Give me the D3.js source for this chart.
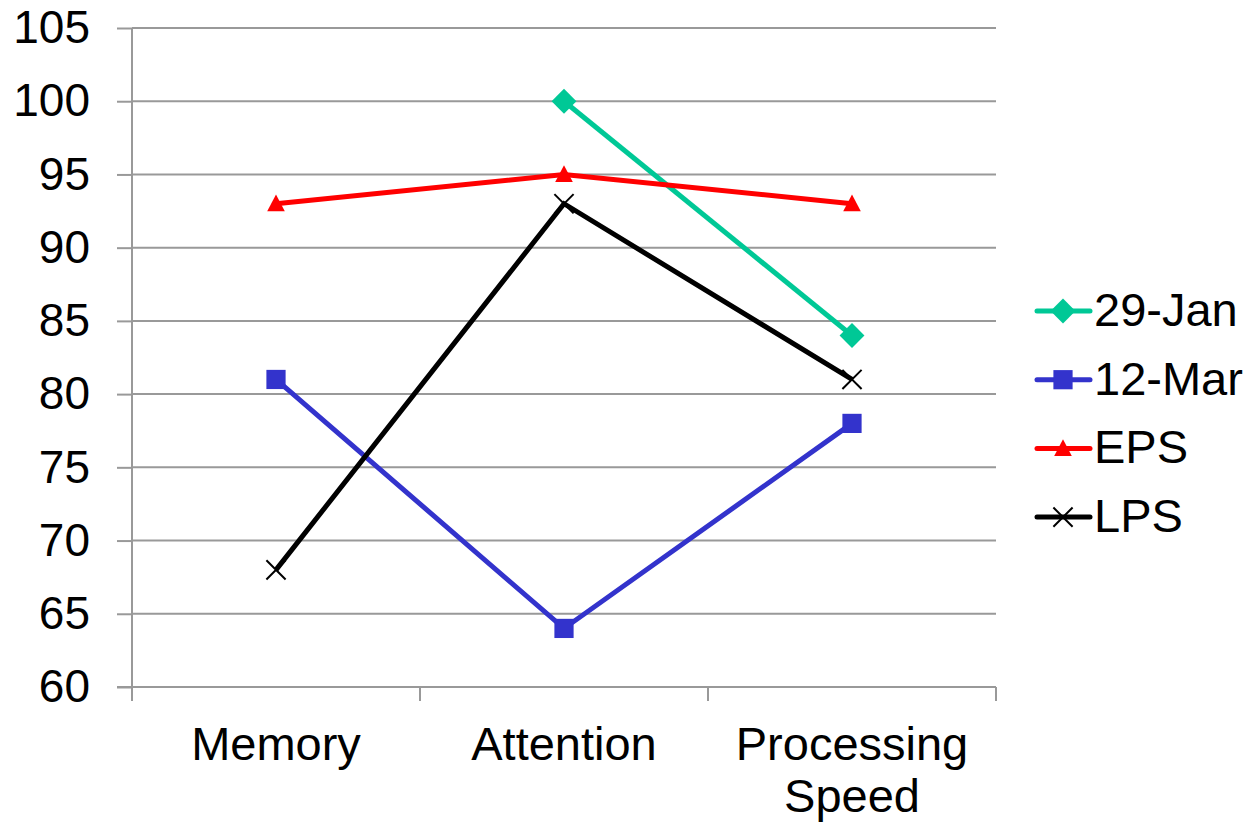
<!DOCTYPE html>
<html><head><meta charset="utf-8">
<script src="https://cdn.jsdelivr.net/npm/d3@7"></script>
<style>body{margin:0;background:#fff}svg{display:block}text{font-family:"Liberation Sans",Arial,sans-serif;fill:#000}</style>
</head><body>
<svg id="c" width="1251" height="823"></svg>
<script>
const categories = ["Memory", "Attention", "Processing Speed"];
const categoryLines = [["Memory"], ["Attention"], ["Processing", "Speed"]];
const seriesNames = ["29-Jan", "12-Mar", "EPS", "LPS"];
const jan29 = [null, 100, 84];
const mar12 = [81, 64, 78];
const eps = [93, 95, 93];
const lps = [68, 93, 81];
const yTicks = [60, 65, 70, 75, 80, 85, 90, 95, 100, 105];

const series = [
  {name: seriesNames[0], values: jan29, color: "#00c896", marker: "diamond"},
  {name: seriesNames[1], values: mar12, color: "#3333cc", marker: "square"},
  {name: seriesNames[2], values: eps, color: "#ff0000", marker: "triangle"},
  {name: seriesNames[3], values: lps, color: "#000000", marker: "x"}
];

const svg = d3.select("#c");
const L = 132, R = 996, T = 28, B = 687;
const x = d3.scaleBand().domain(categories).range([L, R]);
const y = d3.scaleLinear().domain([60, 105]).range([B, T]);

// gridlines
svg.append("g").selectAll("line").data(yTicks).join("line")
  .attr("x1", L).attr("x2", R).attr("y1", d => y(d)).attr("y2", d => y(d))
  .attr("stroke", "#999").attr("stroke-width", 2);

// y axis
const ya = svg.append("g").attr("transform", `translate(${L},0)`)
  .call(d3.axisLeft(y).tickValues(yTicks).tickSize(15).tickPadding(27));
ya.select(".domain").attr("stroke", "#999").attr("stroke-width", 2).attr("d", `M-0,${B}V${T}`);
ya.selectAll(".tick line").attr("stroke", "#999").attr("stroke-width", 2);
ya.selectAll(".tick text").attr("font-size", 46).attr("font-family", "Liberation Sans, Arial, sans-serif").attr("fill", "#000");

// x axis
const xa = svg.append("g").attr("transform", `translate(0,${B})`);
xa.append("line").attr("x1", L - 15).attr("x2", R).attr("y1", 0).attr("y2", 0).attr("stroke", "#999").attr("stroke-width", 2);
const bounds = [L, ...categories.map(c => x(c) + x.bandwidth())];
xa.selectAll("line.tk").data(bounds).join("line").attr("class", "tk")
  .attr("x1", d => d).attr("x2", d => d).attr("y1", 0).attr("y2", 14)
  .attr("stroke", "#999").attr("stroke-width", 2);
xa.selectAll("text.cl").data(categories).join("text").attr("class", "cl")
  .attr("text-anchor", "middle").attr("font-size", 47)
  .attr("x", d => x(d) + x.bandwidth() / 2)
  .each(function(d, i) {
    const t = d3.select(this);
    categoryLines[i].forEach((ln, j) => {
      t.append("tspan").attr("x", x(d) + x.bandwidth() / 2).attr("y", 73 + j * 52).text(ln);
    });
  });

const cx = (i) => x(categories[i]) + x.bandwidth() / 2;

function drawMarker(g, type, color, px, py, s) {
  if (type === "diamond") {
    g.append("rect").attr("x", px - s * 0.55).attr("y", py - s * 0.55).attr("width", s * 1.1).attr("height", s * 1.1)
      .attr("transform", `rotate(45,${px},${py})`).attr("fill", color);
  } else if (type === "square") {
    g.append("rect").attr("x", px - s * 0.6).attr("y", py - s * 0.6).attr("width", s * 1.2).attr("height", s * 1.2).attr("fill", color);
  } else if (type === "triangle") {
    const h = s * 0.95, w = s * 0.55;
    g.append("path").attr("d", `M${px},${py - h * 0.6}L${px + w},${py + h * 0.5}L${px - w},${py + h * 0.5}Z`).attr("fill", color);
  } else if (type === "x") {
    const r = s * 0.6;
    g.append("path").attr("d", `M${px - r},${py - r}L${px + r},${py + r}M${px - r},${py + r}L${px + r},${py - r}`)
      .attr("stroke", color).attr("stroke-width", 2);
  }
}

const line = d3.line().defined(d => d.v != null).x(d => cx(d.i)).y(d => y(d.v));
series.forEach(s => {
  const pts = s.values.map((v, i) => ({v, i}));
  const g = svg.append("g");
  g.append("path").attr("d", line(pts)).attr("fill", "none").attr("stroke", s.color).attr("stroke-width", 5);
  pts.filter(p => p.v != null).forEach(p => drawMarker(g, s.marker, s.color, cx(p.i), y(p.v), 16));
});

// legend
const lg = svg.append("g");
series.forEach((s, i) => {
  const ly = 311 + i * 68.7;
  const g = lg.append("g");
  g.append("line").attr("x1", 1037).attr("x2", 1090).attr("y1", ly).attr("y2", ly).attr("stroke", s.color).attr("stroke-width", 5).attr("stroke-linecap", "round");
  drawMarker(g, s.marker, s.color, 1063, ly, 16);
  g.append("text").attr("x", 1094).attr("y", ly + 15).attr("font-size", 47).text(s.name);
});
</script>
</body></html>
